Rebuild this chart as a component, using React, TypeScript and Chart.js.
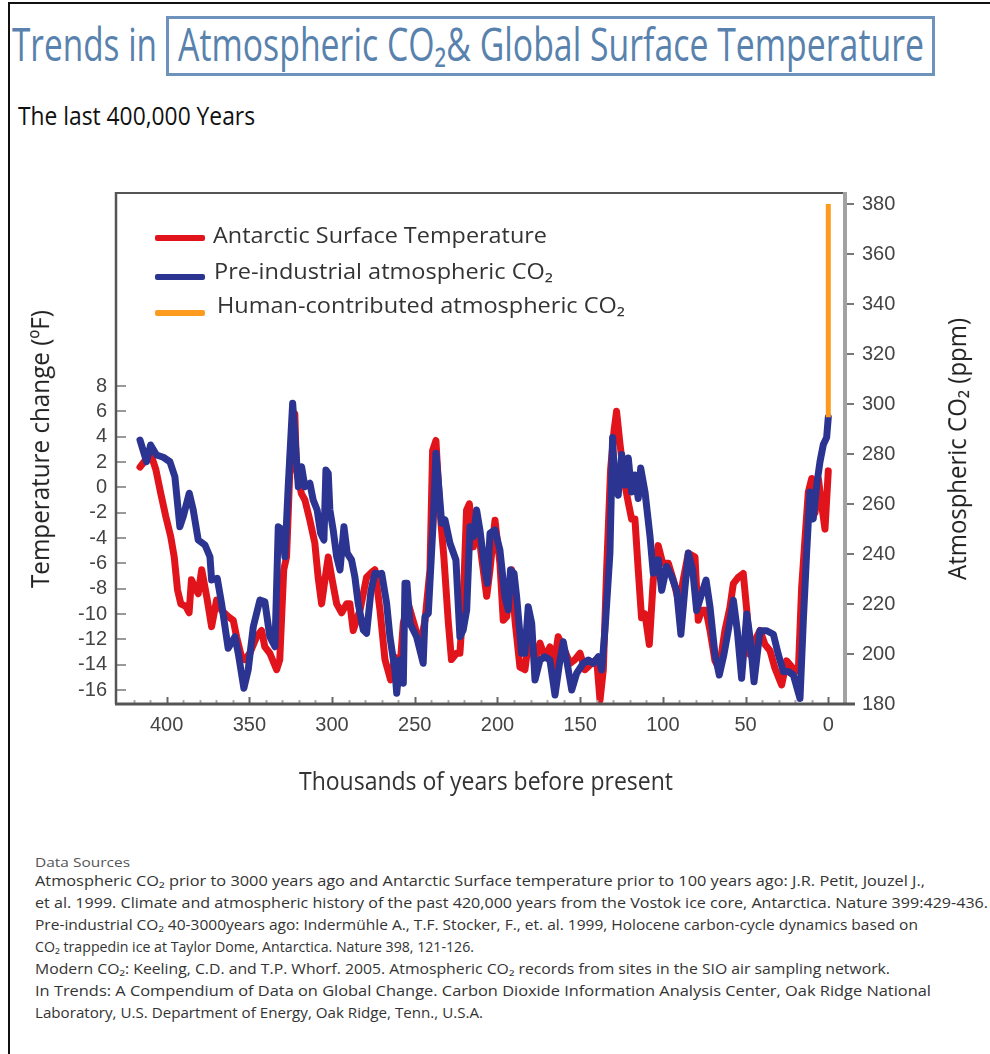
import React, { useEffect, useRef } from "react";
import { Chart, registerables } from "chart.js";

Chart.register(...registerables);

// ---------------- data ----------------
const xLabelValues = [400, 350, 300, 250, 200, 150, 100, 50, 0];
const tempTickValues = [-16, -14, -12, -10, -8, -6, -4, -2, 0, 2, 4, 6, 8];
const co2TickValues = [180, 200, 220, 240, 260, 280, 300, 320, 340, 360, 380];

// Antarctic surface temperature (°F change) vs thousands of years before present
const tempAge = [
  416.1, 412.5, 409.5, 406.5, 403.5, 400.5, 397.5, 395.4, 393.4, 391.4, 388.4, 386.4, 385.0, 382.9, 380.9, 378.8,
  375.8, 372.8, 369.8, 366.8, 362.8, 359.7, 357.7, 354.7, 352.7, 349.7, 345.6, 342.6, 340.6, 337.6, 333.5, 331.6,
  329.2, 327.5, 325.1, 322.5, 321.5, 318.5, 316.4, 313.4, 310.4, 308.4, 306.3, 304.3, 302.3, 300.2, 297.2, 294.2,
  291.2, 289.2, 287.2, 283.1, 279.1, 276.0, 274.1, 271.0, 268.0, 264.6, 262.0, 259.0, 256.9, 253.9, 249.9, 246.9,
  243.8, 240.8, 239.2, 237.2, 234.8, 232.4, 229.8, 227.8, 224.7, 222.7, 220.7, 218.7, 217.0, 214.6, 212.6, 209.6,
  206.5, 204.5, 201.5, 198.5, 196.5, 194.4, 191.5, 189.4, 186.4, 183.4, 180.3, 177.3, 174.3, 171.3, 168.3, 166.3,
  163.3, 160.2, 156.2, 153.2, 150.1, 147.1, 143.1, 140.0, 138.0, 136.0, 134.0, 131.6, 129.5, 128.0, 125.9, 122.9,
  120.9, 118.9, 116.9, 114.9, 112.9, 110.8, 108.2, 105.8, 102.8, 100.1, 96.7, 93.7, 90.1, 87.7, 84.6, 80.6,
  78.6, 76.5, 73.9, 71.5, 68.5, 65.9, 62.5, 59.5, 57.4, 54.4, 51.4, 49.3, 47.3, 44.3, 41.3, 38.3,
  35.2, 32.2, 28.2, 25.2, 21.2, 18.1, 16.1, 14.1, 12.1, 10.0, 8.0, 6.0, 4.0, 2.0, 0.0,
];
const tempValue = [
  1.6, 2.2, 2.6, 1.4, -0.5, -2.3, -3.9, -5.5, -8.1, -9.2, -9.4, -9.9, -7.3, -7.9, -8.4, -6.5,
  -8.6, -11.0, -8.9, -9.7, -10.2, -10.5, -11.8, -13.4, -13.6, -13.1, -11.8, -11.3, -12.6, -13.1, -14.4, -13.6,
  -6.5, -5.5, 2.7, 5.8, 1.4, -0.5, -1.0, -2.6, -4.4, -7.1, -9.2, -7.3, -5.5, -7.1, -9.2, -9.9,
  -9.2, -9.2, -11.3, -9.7, -7.1, -6.7, -6.5, -9.7, -13.6, -15.2, -13.4, -14.4, -10.7, -9.2, -11.0, -12.6,
  -10.5, -6.5, 2.9, 3.7, -1.8, -5.5, -10.5, -13.6, -13.1, -13.1, -9.2, -1.8, -1.3, -4.7, -2.1, -5.5,
  -8.6, -6.5, -2.6, -6.0, -10.5, -10.2, -6.5, -10.5, -14.2, -14.4, -11.3, -13.6, -12.3, -13.4, -12.6, -14.4,
  -11.8, -12.6, -13.9, -13.6, -13.1, -14.4, -13.9, -13.6, -16.8, -14.4, -6.5, 1.4, 4.5, 6.0, 3.4, 0.2,
  -1.2, -2.5, -2.5, -6.5, -10.3, -10.0, -12.4, -7.3, -4.6, -6.0, -6.0, -7.3, -9.2, -7.3, -5.2, -5.5,
  -10.5, -9.7, -9.7, -11.3, -13.7, -14.3, -11.3, -9.5, -7.6, -7.1, -6.8, -9.7, -13.2, -12.1, -11.3, -12.4,
  -12.9, -14.3, -15.6, -13.7, -14.3, -14.5, -7.9, -4.1, -0.4, 0.7, -2.0, 0.7, -1.4, -3.3, 1.3,
];

// Pre-industrial atmospheric CO2 (ppm)
const co2Age = [
  416.1, 412.1, 409.7, 406.1, 402.0, 398.0, 395.0, 392.0, 390.0, 386.3, 383.9, 380.9, 376.8, 373.8, 372.8, 369.4,
  366.8, 362.8, 358.7, 356.7, 353.3, 350.7, 347.6, 343.6, 340.6, 337.6, 334.5, 332.5, 329.9, 328.5, 326.5, 323.8,
  322.4, 320.4, 318.4, 316.4, 313.4, 311.4, 309.0, 306.9, 304.9, 303.7, 302.3, 301.3, 299.3, 297.2, 295.2, 292.8,
  290.8, 288.2, 286.2, 284.2, 281.1, 279.1, 276.5, 274.1, 271.5, 270.0, 267.0, 265.0, 262.0, 260.9, 259.0, 256.9,
  255.9, 254.7, 252.9, 250.9, 248.9, 244.9, 243.8, 241.8, 238.8, 237.2, 235.8, 233.7, 231.7, 228.7, 225.1, 222.7,
  220.7, 218.6, 216.6, 214.6, 212.6, 210.6, 207.6, 206.1, 204.5, 201.5, 198.5, 195.5, 193.5, 192.1, 190.0, 188.4,
  185.4, 183.4, 181.4, 179.3, 177.3, 174.3, 171.3, 168.3, 165.2, 162.2, 160.2, 158.2, 155.1, 152.1, 148.1, 145.1,
  142.1, 139.1, 137.0, 135.0, 132.0, 130.4, 129.0, 127.0, 124.9, 122.9, 120.9, 118.9, 116.9, 114.9, 113.4, 110.8,
  107.8, 105.8, 102.8, 100.7, 97.7, 94.7, 91.7, 89.1, 86.6, 84.6, 82.0, 79.6, 76.5, 73.9, 71.5, 68.5,
  65.9, 63.1, 60.5, 57.4, 55.0, 52.4, 49.3, 47.3, 44.9, 41.3, 37.2, 33.2, 30.2, 27.2, 24.2, 21.1,
  17.1, 15.1, 13.1, 11.1, 9.1, 7.0, 5.0, 3.0, 1.0, 0.0,
];
const co2Value = [
  285.6, 276.9, 283.6, 279.6, 278.7, 276.9, 270.9, 250.9, 254.9, 264.3, 257.6, 245.6, 243.6, 238.9, 229.6, 230.3,
  220.3, 202.3, 206.9, 200.3, 186.3, 193.6, 210.9, 221.6, 220.9, 206.9, 202.9, 250.9, 249.6, 238.9, 266.9, 300.3,
  286.9, 266.9, 274.9, 266.9, 268.3, 261.6, 257.6, 248.3, 245.6, 273.6, 272.3, 257.6, 249.6, 238.9, 233.6, 250.9,
  240.3, 237.6, 230.9, 220.3, 209.6, 208.3, 225.0, 232.3, 232.0, 232.3, 220.3, 206.9, 193.6, 184.3, 197.6, 188.3,
  228.3, 228.3, 212.3, 209.6, 206.9, 196.3, 214.9, 216.3, 253.6, 280.3, 269.6, 252.3, 253.6, 244.3, 237.6, 206.9,
  209.6, 217.6, 250.9, 246.9, 257.6, 249.6, 233.6, 228.3, 248.3, 249.6, 241.6, 222.9, 217.6, 233.6, 232.3, 222.9,
  200.3, 200.3, 218.9, 212.3, 189.6, 197.6, 198.9, 197.6, 183.6, 197.6, 204.9, 197.6, 185.6, 192.3, 196.3, 197.6,
  196.3, 198.9, 193.6, 209.6, 240.4, 286.6, 267.6, 263.5, 279.8, 267.6, 278.4, 264.8, 271.6, 262.2, 274.4, 264.8,
  247.2, 232.3, 237.7, 225.5, 235.0, 231.0, 225.5, 207.9, 226.9, 240.4, 233.7, 217.4, 224.2, 229.6, 218.8, 199.8,
  191.6, 199.8, 209.3, 221.5, 209.3, 190.3, 216.0, 206.6, 188.9, 209.3, 209.3, 207.9, 199.8, 193.0, 193.0, 191.6,
  182.2, 213.3, 240.4, 264.8, 254.0, 267.6, 277.0, 283.8, 286.6, 294.7,
];

// Human-contributed atmospheric CO2 (ppm)
const humanAge = [0, 0];
const humanValue = [294.7, 380];

const seriesLabels = [
  "Antarctic Surface Temperature",
  "Pre-industrial atmospheric CO\u2082",
  "Human-contributed atmospheric CO\u2082",
];
const seriesColors = ["#e1141c", "#2c3491", "#fd9b1e"];

const sourceLines = [
  "Atmospheric CO\u2082 prior to 3000 years ago and Antarctic Surface temperature prior to 100 years ago: J.R. Petit, Jouzel J.,",
  "et al. 1999. Climate and atmospheric history of the past 420,000 years from the Vostok ice core, Antarctica. Nature 399:429-436.",
  "Pre-industrial CO\u2082 40-3000years ago: Indermühle A., T.F. Stocker, F.,  et. al. 1999, Holocene carbon-cycle dynamics based on",
  "CO\u2082 trappedin ice at Taylor Dome, Antarctica. Nature 398, 121-126.",
  "Modern CO\u2082: Keeling, C.D. and T.P. Whorf. 2005. Atmospheric CO\u2082 records from sites in the SIO air sampling network.",
  "In Trends: A Compendium of Data on Global Change. Carbon Dioxide Information Analysis Center, Oak Ridge National",
  "Laboratory, U.S. Department of Energy, Oak Ridge, Tenn., U.S.A.",
];
const sourceWidths = [890, 953, 887, 439, 855, 896, 448];

// ---------------- text helper ----------------
let mctx: CanvasRenderingContext2D | null = null;
function measure(text: string, font: string) {
  if (!mctx) mctx = document.createElement("canvas").getContext("2d");
  mctx!.font = font;
  const m = mctx!.measureText(text);
  return {
    w: m.width,
    asc: (m as any).fontBoundingBoxAscent ?? 0,
    desc: (m as any).fontBoundingBoxDescent ?? 0,
  };
}

function FitText(props: {
  text: string; x: number; y: number; width?: number; size: number; family: string;
  color: string; weight?: string | number; anchor?: "left" | "center"; rotate?: number;
}) {
  const { text, x, y, width, size, family, color, weight = "normal", anchor = "left", rotate = 0 } = props;
  const font = `${weight} ${size}px ${family}`;
  const m = measure(text, font);
  const asc = m.asc || size * 0.9;
  const desc = m.desc || size * 0.25;
  const lh = size * 1.3;
  const baseOff = (lh - (asc + desc)) / 2 + asc;
  const s = width ? width / m.w : 1;
  const ax = anchor === "center" ? m.w / 2 : 0;
  return (
    <div
      style={{
        position: "absolute", left: 0, top: 0, whiteSpace: "nowrap",
        fontFamily: family, fontSize: `${size}px`, fontWeight: weight as any, lineHeight: `${lh}px`, color,
        transformOrigin: "0 0",
        transform: `translate(${x}px, ${y}px) rotate(${rotate}deg) scaleX(${s}) translate(${-ax}px, ${-baseOff}px)`,
      }}
    >
      {text}
    </div>
  );
}

const HUMANIST = "'Open Sans', 'Noto Sans', sans-serif";
const CONDENSED = "'Open Sans', 'Liberation Sans', sans-serif";
const TICKFONT = "'Liberation Sans', Arial, sans-serif";

const CANVAS_TOP = 150;

const framePlugin = {
  id: "frame",
  afterDatasetsDraw(chart: any) {
    const { ctx, chartArea } = chart;
    const { left, right, top, bottom } = chartArea;
    const xs = chart.scales.x;
    const yT = chart.scales.yT;
    ctx.save();
    ctx.lineCap = "butt";
    // minor / major x ticks (inward)
    for (let v = 0; v <= 420; v += 10) {
      const px = Math.round(xs.getPixelForValue(v)) + 0.5;
      const major = v % 50 === 0;
      ctx.strokeStyle = major ? "#666" : "#aaa";
      ctx.lineWidth = 2;
      ctx.beginPath();
      ctx.moveTo(px, bottom);
      ctx.lineTo(px, bottom - (major ? 7 : 4));
      ctx.stroke();
    }
    // left y ticks (inward)
    ctx.strokeStyle = "#999";
    ctx.lineWidth = 2;
    for (const v of tempTickValues) {
      const py = Math.round(yT.getPixelForValue(v));
      ctx.beginPath();
      ctx.moveTo(left, py);
      ctx.lineTo(left + 10, py);
      ctx.stroke();
    }
    // top border
    ctx.strokeStyle = "#555";
    ctx.lineWidth = 2;
    ctx.beginPath();
    ctx.moveTo(left, top);
    ctx.lineTo(right, top);
    ctx.stroke();
    // right axis
    ctx.strokeStyle = "#a2a2a2";
    ctx.lineWidth = 4;
    ctx.beginPath();
    ctx.moveTo(right, top - 1);
    ctx.lineTo(right, bottom);
    ctx.stroke();
    // left border
    ctx.strokeStyle = "#555";
    ctx.lineWidth = 2.5;
    ctx.beginPath();
    ctx.moveTo(left, top - 1);
    ctx.lineTo(left, bottom);
    ctx.stroke();
    // bottom axis
    ctx.lineWidth = 3;
    ctx.beginPath();
    ctx.moveTo(left - 1, bottom);
    ctx.lineTo(right + 10, bottom);
    ctx.stroke();
    ctx.restore();
  },
};

function ChartCanvas() {
  const ref = useRef<HTMLCanvasElement | null>(null);
  useEffect(() => {
    if (!ref.current) return;
    const tickFont = { family: TICKFONT, size: 20 };
    const chart = new Chart(ref.current, {
      type: "line",
      data: {
        datasets: [
          {
            label: seriesLabels[2],
            data: humanAge.map((a, i) => ({ x: a, y: humanValue[i] })),
            yAxisID: "yC", borderColor: seriesColors[2], borderWidth: 5, pointRadius: 0, order: 0,
            borderCapStyle: "butt",
          },
          {
            label: seriesLabels[1],
            data: co2Age.map((a, i) => ({ x: a, y: co2Value[i] })),
            yAxisID: "yC", borderColor: seriesColors[1], borderWidth: 7, pointRadius: 0, order: 1,
          },
          {
            label: seriesLabels[0],
            data: tempAge.map((a, i) => ({ x: a, y: tempValue[i] })),
            yAxisID: "yT", borderColor: seriesColors[0], borderWidth: 7, pointRadius: 0, order: 2,
          },
        ],
      },
      options: {
        animation: false,
        responsive: false,
        layout: { padding: { top: 43, left: 0, right: 0, bottom: 0 } },
        plugins: { legend: { display: false }, tooltip: { enabled: false }, title: { display: false } },
        elements: { line: { tension: 0, borderJoinStyle: "round", borderCapStyle: "round" }, point: { radius: 0 } },
        scales: {
          x: {
            type: "linear", reverse: true, min: -10.1, max: 430.6,
            grid: { display: false, drawTicks: false, tickLength: 0 },
            border: { display: false },
            afterBuildTicks: (s: any) => { s.ticks = xLabelValues.map((v) => ({ value: v })); },
            ticks: { autoSkip: false, maxRotation: 0, padding: 9, font: tickFont, color: "#444" },
            afterFit: (s: any) => { s.height = 700 - (704 - CANVAS_TOP); },
          },
          yT: {
            type: "linear", position: "left", min: -17.105, max: 23.237,
            grid: { display: false, drawTicks: false, tickLength: 0 },
            border: { display: false },
            afterBuildTicks: (s: any) => { s.ticks = tempTickValues.map((v) => ({ value: v })); },
            ticks: { autoSkip: false, padding: 9, font: tickFont, color: "#444" },
            afterFit: (s: any) => { s.width = 116; },
          },
          yC: {
            type: "linear", position: "right", min: 180, max: 384.4,
            grid: { display: true, drawOnChartArea: false, drawTicks: true, tickLength: 9, color: "#777", lineWidth: 2 },
            border: { display: false },
            afterBuildTicks: (s: any) => { s.ticks = co2TickValues.map((v) => ({ value: v })); },
            ticks: { autoSkip: false, padding: 8, font: tickFont, color: "#444" },
            afterFit: (s: any) => { s.width = 990 - 845; },
          },
        },
      } as any,
      plugins: [framePlugin],
    });
    return () => chart.destroy();
  }, []);
  return (
    <canvas
      ref={ref}
      width={990}
      height={700}
      style={{ position: "absolute", left: 0, top: CANVAS_TOP, width: 990, height: 700 }}
    />
  );
}

export default function App() {
  const legendY = [238, 277, 313];
  const legendBase = [243.5, 280, 314];
  const legendX = [213, 214, 217];
  const legendW = [334, 339, 408];
  return (
    <div style={{ position: "absolute", left: 0, top: 0, width: 990, height: 1054, background: "#fff", overflow: "hidden" }}>
      {/* page frame */}
      <div style={{ position: "absolute", left: 8, top: 2, width: 2, height: 1052, background: "#111" }} />
      <div style={{ position: "absolute", left: 8, top: 2, width: 982, height: 2, background: "#111" }} />

      {/* title */}
      <div style={{ position: "absolute", left: 166, top: 16, width: 769, height: 60, border: "3px solid #6d92bb", boxSizing: "border-box" }} />
      <FitText text="Trends in" x={12} y={62} width={145} size={45} family={CONDENSED} color="#5882ad" />
      <FitText text={"Atmospheric CO\u2082& Global Surface Temperature"} x={178} y={62} width={746} size={45} family={CONDENSED} color="#5882ad" />
      <FitText text="The last 400,000 Years" x={18} y={126} width={237} size={26} family={CONDENSED} color="#111" />

      <ChartCanvas />

      {/* legend */}
      {seriesLabels.map((lab, i) => (
        <React.Fragment key={lab}>
          <div style={{ position: "absolute", left: 155, top: legendY[i] - 3, width: 50, height: 6, background: seriesColors[i], borderRadius: 2 }} />
          <FitText text={lab} x={legendX[i]} y={legendBase[i]} width={legendW[i]} size={21} family={HUMANIST} color="#333" weight={500} />
        </React.Fragment>
      ))}

      {/* axis titles */}
      <FitText text={"Temperature change (\u00baF)"} x={50} y={449} width={278} size={26} family={HUMANIST} color="#222" anchor="center" rotate={-90} />
      <FitText text={"Atmospheric CO\u2082 (ppm)"} x={967} y={449} width={262} size={26} family={HUMANIST} color="#222" anchor="center" rotate={-90} />
      <FitText text="Thousands of years before present" x={486} y={791} width={374} size={26} family={HUMANIST} color="#333" anchor="center" />

      {/* sources */}
      <FitText text="Data Sources" x={35} y={867} width={95} size={12} family={CONDENSED} color="#555" />
      {sourceLines.map((t, i) => (
        <FitText key={i} text={t} x={35} y={887 + i * 22} width={sourceWidths[i]} size={14} family={CONDENSED} color="#333" />
      ))}
    </div>
  );
}
